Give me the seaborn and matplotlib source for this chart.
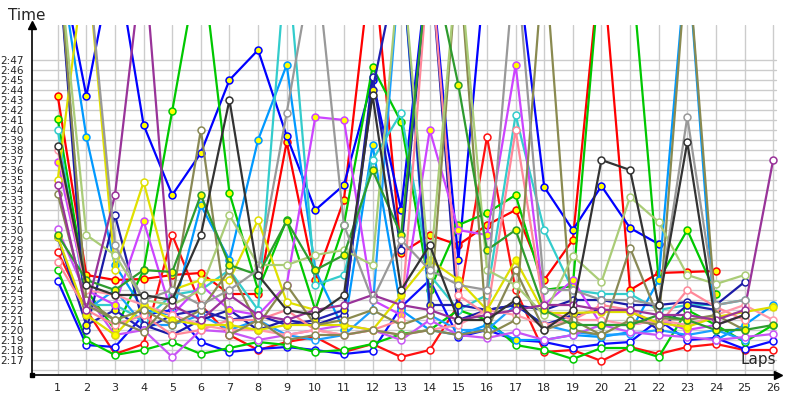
import numpy as np
import pandas as pd
import matplotlib.pyplot as plt
import seaborn as sns

nan = np.nan
OFF = 58  # lap time above the visible range (over 2:50)

laps = list(range(1, 27))

# lap times in seconds past 2:00
red_a = [43.4, 25.5, 25.0, 25.1, 25.5, 25.7, 23.6, 23.6, 38.8, 25.0, 33.0, OFF, 27.7, 29.5, 28.5, 30.5, 32.0, 25.0, 29.0, OFF, 24.0, 25.7, 25.8, 25.9, nan, nan]
red_b = [27.8, 22.0, 17.6, 18.6, 29.5, 22.5, 19.5, 18.0, 18.8, 19.3, 17.8, 18.6, 17.3, 18.0, 22.5, 39.3, 24.0, 17.8, 18.0, 16.9, 18.3, 17.6, 18.3, 18.6, 18.0, 18.0]
blue_a = [OFF, 43.4, OFF, 40.5, 33.5, 37.7, 45.0, 48.0, 39.4, 32.0, 34.5, 45.0, 32.0, OFF, 27.0, OFF, OFF, 34.3, 30.0, 34.4, 30.2, 28.6, nan, nan, nan, nan]
blue_b = [24.9, 18.5, 18.3, 21.5, 22.0, 18.8, 17.8, 18.1, 18.3, 18.0, 17.6, 17.9, 22.3, 25.0, 19.3, 20.0, 19.0, 18.8, 18.2, 18.6, 18.8, 21.0, 19.0, 19.2, 18.1, 18.9]
green_a = [26.0, 19.0, 17.5, 18.0, 18.8, 17.6, 18.2, 18.8, 18.5, 17.8, 18.0, 18.6, 19.6, 20.0, 22.0, 21.0, 18.5, 18.0, 17.1, 18.2, 18.2, 17.3, 22.0, 20.5, 18.8, 20.5]
green_b = [41.1, 24.0, 20.0, 26.0, 41.9, OFF, 33.7, 24.0, 31.0, 22.0, 30.5, 46.3, 40.8, 24.0, 30.5, 31.7, 33.5, 24.0, 24.4, OFF, OFF, 25.0, 30.0, 23.6, nan, nan]
lblue_a = [OFF, 39.3, 26.5, 22.0, 21.5, 32.5, 27.0, 39.0, 46.5, 26.0, 20.0, 38.5, 22.0, 20.0, 19.5, 20.5, 19.0, 19.0, 19.5, 19.3, 19.8, 25.0, OFF, 19.0, 20.5, 22.5]
lblue_b = [OFF, 22.0, 24.0, 20.5, 20.5, 21.5, 20.0, 21.0, 19.5, 19.0, 19.5, 22.0, OFF, 21.5, 20.0, 20.0, 22.5, 20.5, 19.8, 19.5, 19.6, 20.0, 19.5, 20.0, 19.0, nan]
cyan = [40.0, 22.5, 22.5, 21.0, 23.5, 24.0, 26.0, 22.0, OFF, 24.5, 25.5, 37.0, 41.7, 25.5, 22.0, 23.5, 41.5, 30.0, 24.0, 23.6, 23.6, 22.0, 22.5, 22.5, 23.0, nan]
navy_a = [OFF, 20.0, 31.5, 20.5, 19.5, 21.0, 22.0, 20.0, 21.0, 20.5, 21.5, 45.3, 28.0, OFF, 21.0, 22.0, 22.5, 22.0, 23.0, 23.0, 22.5, 22.5, 22.8, 22.5, 24.8, nan]
navy_b = [29.3, 20.5, 22.0, 20.0, 21.5, 22.0, 21.0, 21.5, 20.5, 21.0, 22.0, 44.0, OFF, 22.5, 22.5, 22.0, 22.5, 20.5, 21.5, 22.0, 22.0, 20.0, 22.5, 22.0, nan, nan]
magenta_a = [36.8, 24.0, 22.5, 30.9, 21.5, 24.5, 22.0, 21.5, 24.5, 41.3, 41.0, 23.0, 21.5, 40.0, 30.0, 29.5, 46.5, 22.5, 25.0, 20.5, 20.5, 21.0, 20.0, 20.5, 21.5, nan]
magenta_b = [30.1, 23.5, 19.5, 20.0, 17.3, 20.0, 19.8, 19.0, 19.5, 20.0, 20.5, 20.0, 19.0, 21.0, 19.5, 19.2, 19.8, 19.0, 19.5, 20.5, 19.8, 19.5, 19.3, 19.0, 19.3, 19.6]
pink_a = [26.8, 22.0, 20.5, 21.5, 19.5, 20.0, 21.0, 21.0, 22.0, 20.0, 19.5, 20.0, 21.0, OFF, 23.5, 21.5, 40.0, 22.0, 21.0, 22.5, 22.0, 20.5, 24.0, 22.3, 21.0, nan]
pink_b = [38.0, 24.0, 23.5, 22.5, 21.5, 20.5, 20.0, 20.0, 19.5, 20.0, 19.5, 20.0, 19.5, 20.0, 20.5, 22.0, 21.5, 20.5, 21.0, 21.0, 20.5, 21.0, 20.5, 21.5, 22.5, 21.0]
yellow_a = [35.0, OFF, 26.0, 34.8, 24.0, 25.0, 25.0, 31.0, 22.8, 22.0, nan, nan, nan, nan, nan, nan, nan, nan, nan, nan, nan, nan, nan, nan, nan, nan]
yellow_b = [29.3, 21.5, 19.5, 22.5, 21.0, 20.5, 20.5, 20.0, 20.5, 20.5, 20.5, 20.0, 23.5, 27.0, 25.0, 22.0, 27.0, 21.7, 21.7, 21.8, 21.8, 20.7, 20.3, 21.3, 21.8, 22.3]
olive_a = [33.6, 22.5, 21.0, 19.8, 23.0, 40.0, 19.5, 21.0, 19.0, 19.5, 19.5, 20.0, 19.5, 20.0, 19.5, 20.0, 26.0, 20.0, 21.0, 19.5, 28.2, 21.2, 21.0, 21.5, 20.0, nan]
olive_b = [OFF, 23.0, 21.0, 22.0, 20.5, 22.0, 26.0, 20.5, 24.5, 20.5, 21.0, 22.0, 20.5, 21.5, OFF, 19.5, 21.0, OFF, 20.0, 19.5, 21.0, 20.5, OFF, 21.5, nan, nan]
lolive = [OFF, 29.5, 27.5, 23.0, 22.5, 24.0, 31.5, 26.5, 26.5, 27.5, 28.0, 26.5, OFF, 25.5, OFF, 26.0, 24.5, 21.5, 27.4, 24.8, 33.3, 30.8, 25.5, 24.6, 25.5, nan]
dgreen = [29.5, 25.0, 24.0, 26.0, 25.8, 33.5, 26.5, 25.5, 30.9, 26.0, 27.5, 36.0, 29.5, OFF, 44.5, 28.0, 30.0, 22.0, 20.5, 20.5, 20.5, 21.5, 21.0, 20.0, 20.0, 20.5]
purple = [34.5, 22.0, 33.5, OFF, 22.5, 21.0, 23.5, 21.5, 21.0, 22.0, 22.5, 23.5, 22.5, 22.0, 21.0, 21.5, 22.0, 22.5, 22.5, 22.0, 22.0, 21.5, 21.5, 21.0, 22.0, 37.0]
gray = [OFF, OFF, 28.5, 23.0, 24.0, 22.5, 24.0, 26.0, 41.7, OFF, 30.5, 23.0, 29.0, 26.0, 24.5, 24.0, OFF, 24.0, 24.0, 23.0, 23.0, 22.5, 41.3, 22.5, 23.0, nan]
black = [38.4, 24.5, 23.5, 23.5, 23.0, 29.5, 43.0, 25.5, 22.0, 21.5, 23.5, 43.5, 24.0, 28.5, 21.0, 21.0, 23.0, 20.0, 22.0, 37.0, 36.0, 22.5, 38.8, 20.5, 21.5, nan]

series = {
    'red_a': red_a, 'red_b': red_b, 'blue_a': blue_a, 'blue_b': blue_b,
    'green_a': green_a, 'green_b': green_b, 'lblue_a': lblue_a, 'lblue_b': lblue_b,
    'cyan': cyan, 'navy_a': navy_a, 'navy_b': navy_b, 'magenta_a': magenta_a,
    'magenta_b': magenta_b, 'pink_a': pink_a, 'pink_b': pink_b, 'yellow_a': yellow_a,
    'yellow_b': yellow_b, 'olive_a': olive_a, 'olive_b': olive_b, 'lolive': lolive,
    'dgreen': dgreen, 'purple': purple, 'gray': gray, 'black': black,
}
colors = {
    'red_a': '#ff0000', 'red_b': '#ff1010', 'blue_a': '#0000ff', 'blue_b': '#0a0aff',
    'green_a': '#00cc00', 'green_b': '#00c800', 'lblue_a': '#0099ff', 'lblue_b': '#1a9fff',
    'cyan': '#33cccc', 'navy_a': '#1a1aa6', 'navy_b': '#2020b0', 'magenta_a': '#cc44ff',
    'magenta_b': '#c855f5', 'pink_a': '#ff8899', 'pink_b': '#ff99aa', 'yellow_a': '#e0e000',
    'yellow_b': '#dede00', 'olive_a': '#888855', 'olive_b': '#8a8a50', 'lolive': '#aacc77',
    'dgreen': '#2e9b2e', 'purple': '#993399', 'gray': '#999999', 'black': '#333333',
}
yellow_face = {'red_a', 'blue_a', 'green_b', 'lblue_a', 'navy_b', 'magenta_a', 'yellow_b', 'dgreen'}

rows = []
for name, vals in series.items():
    for lap, v in zip(laps, vals):
        rows.append({'rider': name, 'lap': lap, 'time': v})
df = pd.DataFrame(rows).dropna()

sns.set_style('white')
fig = plt.figure(figsize=(8, 4), dpi=100)
ax = fig.add_axes([32 / 800, 25 / 400, (778 - 32) / 800, 350 / 400])

ax.set_xlim(0.1, 26.17)
ax.set_ylim(15.5, 50.5)

# grid
for lap in laps:
    ax.axvline(lap, color='#cccccc', lw=1, zorder=0)
for s in range(16, 48):
    ax.axhline(s, xmax=(26.1 - 0.1) / 26.07, color='#cccccc', lw=1, zorder=0)

for name in series:
    c = colors[name]
    face = '#ffff00' if name in yellow_face else 'white'
    sns.lineplot(data=df[df['rider'] == name], x='lap', y='time', color=c, lw=1.6,
                 marker='o', markersize=5, markerfacecolor=face, markeredgecolor=c,
                 markeredgewidth=1.1, estimator=None, sort=False, legend=False, ax=ax)

ax.set_xticks(laps)
ax.set_xticklabels([str(l) for l in laps], fontsize=8)
ax.set_yticks(range(17, 48))
ax.set_yticklabels([f'2:{s:02d}' for s in range(17, 48)], fontsize=7.5)
ax.tick_params(axis='both', length=0)
ax.tick_params(axis='x', pad=6)
ax.tick_params(axis='y', pad=6)
ax.set_xlabel('')
ax.set_ylabel('')

for side in ['top', 'right']:
    ax.spines[side].set_visible(False)
for side in ['left', 'bottom']:
    ax.spines[side].set_color('black')
    ax.spines[side].set_linewidth(1.2)
    ax.spines[side].set_zorder(5)

# axis arrows
ax.plot(0, 1, '^k', markersize=6, transform=ax.transAxes, clip_on=False, zorder=6)
ax.plot(1, 0, '>k', markersize=6, transform=ax.transAxes, clip_on=False, zorder=6)
ax.plot(0, 0, 'sk', markersize=3, transform=ax.transAxes, clip_on=False, zorder=6)

fig.text(8 / 800, 1 - 15 / 400, 'Time', fontsize=11, va='center', ha='left')
ax.text(0.998, 0.045, 'Laps', fontsize=11, va='center', ha='right', transform=ax.transAxes)

plt.savefig('out.png', dpi=100)
